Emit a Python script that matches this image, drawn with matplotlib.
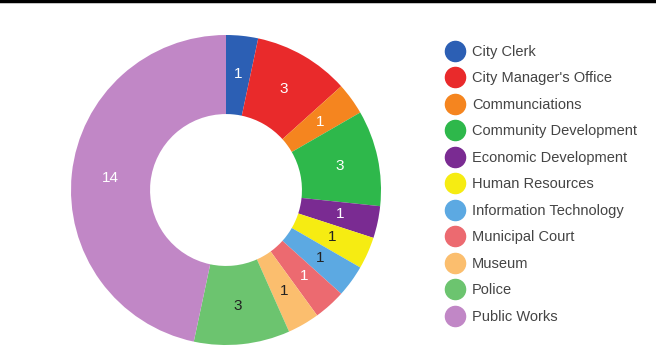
import matplotlib.pyplot as plt
from matplotlib.lines import Line2D

plt.rcParams['font.family'] = ['Liberation Sans', 'DejaVu Sans']

departments = ['City Clerk', "City Manager's Office", 'Communciations',
               'Community Development', 'Economic Development', 'Human Resources',
               'Information Technology', 'Municipal Court', 'Museum', 'Police',
               'Public Works']
counts = [1, 3, 1, 3, 1, 1, 1, 1, 1, 3, 14]
colors = ['#2c5fb4', '#e92a2b', '#f5851f', '#2eb84b', '#7a2b92', '#f6ec12',
          '#5ca9e2', '#ec6a70', '#fbbe6e', '#6cc46f', '#c187c6']
label_colors = ['white', 'white', 'white', 'white', 'white', '#222222',
                '#222222', 'white', '#222222', '#222222', 'white']

fig = plt.figure(figsize=(6.56, 3.58), dpi=100)
ax = fig.add_axes([71 / 656, 13 / 358, 310 / 656, 310 / 358])

total = sum(counts)
wedges, texts, autotexts = ax.pie(
    counts, colors=colors, startangle=90, counterclock=False, radius=1,
    wedgeprops=dict(width=0.51, linewidth=0),
    autopct=lambda p: f'{round(p * total / 100)}', pctdistance=0.75,
    textprops=dict(fontsize=11))
for t, c in zip(autotexts, label_colors):
    t.set_color(c)
ax.set_xlim(-1, 1)
ax.set_ylim(-1, 1)
ax.set_aspect('equal')

# legend with round markers
handles = [Line2D([], [], marker='o', linestyle='none', markersize=14.5,
                  markerfacecolor=c, markeredgecolor=c) for c in colors]
fig.legend(handles, departments, loc='upper left', bbox_to_anchor=(445 / 656, 1 - 45 / 358),
           frameon=False, fontsize=10.5, labelspacing=0.855, handletextpad=0.45,
           handlelength=1.4, labelcolor='#444444', borderaxespad=0, borderpad=0)

# rule across the top
fig.add_artist(Line2D([0, 1], [0.997, 0.997], color='black', lw=2.5,
                      transform=fig.transFigure))

fig.savefig('out.png', dpi=100)
